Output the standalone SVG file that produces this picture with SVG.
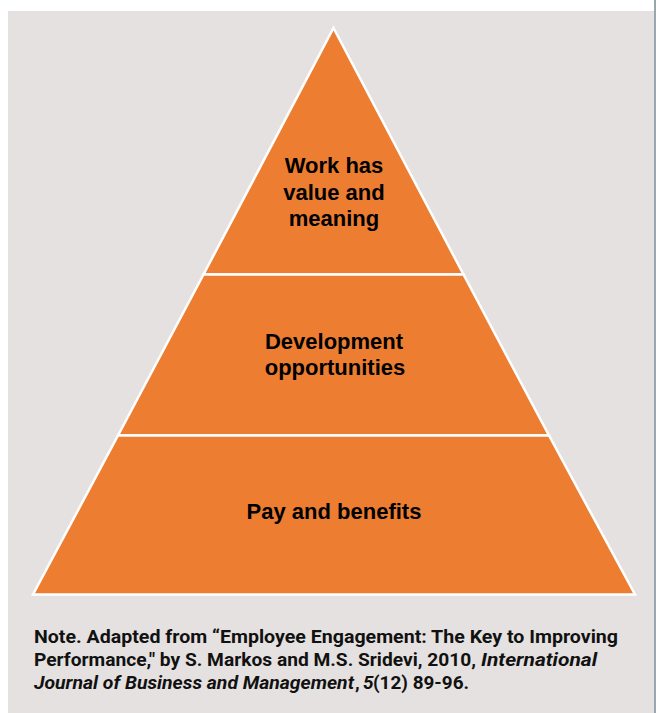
<svg xmlns="http://www.w3.org/2000/svg" width="656" height="713" viewBox="0 0 656 713">
<style>
.lbl{font-family:"Liberation Sans",Arial,sans-serif;font-weight:700;font-size:22px;fill:#000;text-anchor:middle}
.note{font-family:Roboto,"Noto Sans",sans-serif;font-weight:700;font-size:19px;fill:#111}
.it{font-style:italic}
.tier{fill:#ED7D31;stroke:#FFFFFF;stroke-width:2.5;stroke-linejoin:miter}
</style>
<rect x="0" y="0" width="656" height="713" fill="#FFFFFF"/>
<rect x="8" y="11" width="646" height="702" fill="#E5E1E0"/>
<rect x="654" y="0" width="2" height="713" fill="#9AA6AE"/>
<g id="tier-top">
<polygon class="tier" points="333.5,28 463.5,274.5 203.5,274.5"/>
<text class="lbl" x="334" y="173">Work has<tspan x="334" dy="27">value and</tspan><tspan x="334" dy="26">meaning</tspan></text>
</g>
<g id="tier-middle">
<polygon class="tier" points="203.5,274.5 463.5,274.5 549,435.5 118,435.5"/>
<text class="lbl" x="334" y="349">Development<tspan x="335" dy="26">opportunities</tspan></text>
</g>
<g id="tier-bottom">
<polygon class="tier" points="118,435.5 549,435.5 635,594.5 33,594.5"/>
<text class="lbl" x="334" y="519">Pay and benefits</text>
</g>
<g id="note">
<text class="note" x="34" y="643" textLength="584" lengthAdjust="spacingAndGlyphs">Note. Adapted from “Employee Engagement: The Key to Improving</text>
<text class="note" x="34" y="666" textLength="442" lengthAdjust="spacingAndGlyphs">Performance," by S. Markos and M.S. Sridevi, 2010,</text>
<text class="note it" x="481" y="666" textLength="116" lengthAdjust="spacingAndGlyphs">International</text>
<text class="note it" x="34" y="689" textLength="320" lengthAdjust="spacingAndGlyphs">Journal of Business and Management</text>
<text class="note" x="355" y="689">,</text>
<text class="note it" x="363" y="689">5</text>
<text class="note" x="373" y="689" textLength="96" lengthAdjust="spacingAndGlyphs">(12) 89-96.</text>
</g>
</svg>
